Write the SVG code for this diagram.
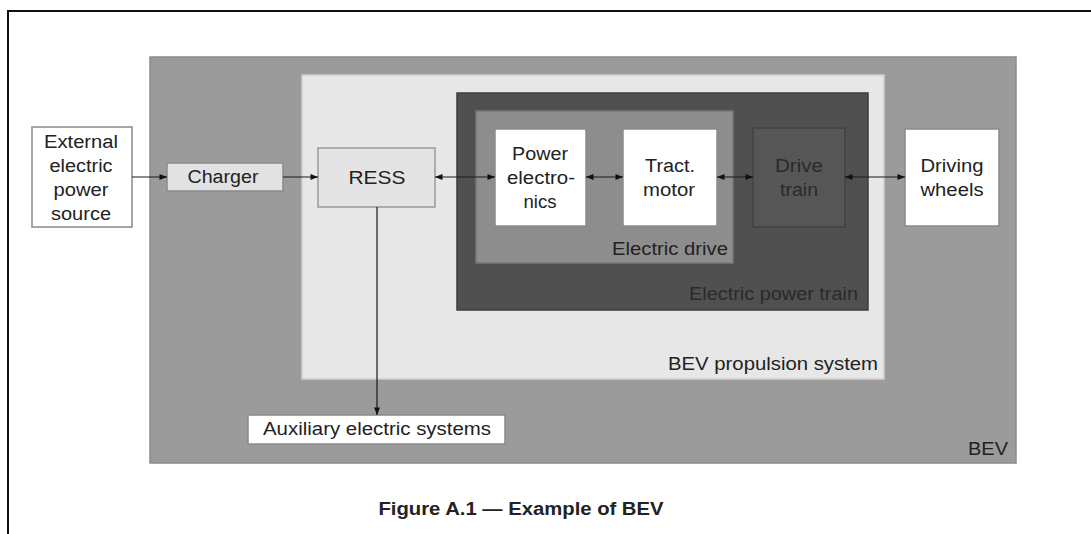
<svg xmlns="http://www.w3.org/2000/svg" width="1091" height="534" viewBox="0 0 1091 534">
<style>
text{font-family:"Liberation Sans",Arial,sans-serif;font-size:18px;fill:#222;}
.c{text-anchor:middle;}
.e{text-anchor:end;}
text.dark{fill:#2a2a2a;}
.conn{stroke:#1a1a1a;stroke-width:1.2;fill:none;}
.white{fill:#ffffff;stroke:#8a8a8a;stroke-width:1.5;}
</style>
<defs>
<marker id="ah" viewBox="0 0 10 8" refX="10" refY="4" markerWidth="9" markerHeight="6" markerUnits="userSpaceOnUse" orient="auto-start-reverse">
<path d="M0,0 L10,4 L0,8 z" fill="#111"/>
</marker>
</defs>
<rect x="0" y="0" width="1091" height="534" fill="#ffffff"/>
<path d="M8,534 L8,11 L1091,11" fill="none" stroke="#111" stroke-width="2"/>

<g id="bev">
<rect x="150" y="57" width="866" height="406" fill="#9b9b9b" stroke="#8a8a8a" stroke-width="1.5"/>
<text class="e" x="1008" y="455" textLength="40" lengthAdjust="spacingAndGlyphs">BEV</text>
</g>
<g id="propulsion">
<rect x="302" y="75" width="582" height="304" fill="#e7e7e7" stroke="#cfcfcf" stroke-width="1.5"/>
<text class="e" x="878" y="370" textLength="210" lengthAdjust="spacingAndGlyphs">BEV propulsion system</text>
</g>
<g id="powertrain">
<rect x="457" y="93" width="411" height="217" fill="#505050" stroke="#3c3c3c" stroke-width="1.5"/>
<text class="e dark" x="858" y="300" textLength="169" lengthAdjust="spacingAndGlyphs">Electric power train</text>
</g>
<g id="electric-drive">
<rect x="476" y="111" width="257" height="152" fill="#8d8d8d" stroke="#777" stroke-width="1.5"/>
<text class="e" x="728" y="255" textLength="116" lengthAdjust="spacingAndGlyphs">Electric drive</text>
</g>
<g id="external">
<rect class="white" x="32" y="127" width="100" height="100"/>
<text class="c" x="81" y="148" textLength="74" lengthAdjust="spacingAndGlyphs">External</text>
<text class="c" x="81" y="172" textLength="63" lengthAdjust="spacingAndGlyphs">electric</text>
<text class="c" x="81" y="196" textLength="55" lengthAdjust="spacingAndGlyphs">power</text>
<text class="c" x="81" y="220" textLength="60" lengthAdjust="spacingAndGlyphs">source</text>
</g>
<g id="charger">
<rect x="167" y="163" width="116" height="28" fill="#e2e2e2" stroke="#8a8a8a" stroke-width="1.5"/>
<text class="c" x="223" y="183" textLength="71" lengthAdjust="spacingAndGlyphs">Charger</text>
</g>
<g id="ress">
<rect x="318" y="148" width="117" height="59" fill="#e4e4e4" stroke="#9a9a9a" stroke-width="1.5"/>
<text class="c" x="377" y="184" textLength="57" lengthAdjust="spacingAndGlyphs">RESS</text>
</g>
<g id="power-electronics">
<rect class="white" x="495" y="129" width="91" height="97" stroke="#777"/>
<text class="c" x="540" y="160" textLength="56" lengthAdjust="spacingAndGlyphs">Power</text>
<text class="c" x="541" y="184" textLength="68" lengthAdjust="spacingAndGlyphs">electro-</text>
<text class="c" x="540" y="208" textLength="33" lengthAdjust="spacingAndGlyphs">nics</text>
</g>
<g id="traction-motor">
<rect class="white" x="623" y="129" width="94" height="97" stroke="#777"/>
<text class="c" x="670" y="172" textLength="50" lengthAdjust="spacingAndGlyphs">Tract.</text>
<text class="c" x="669" y="196" textLength="52" lengthAdjust="spacingAndGlyphs">motor</text>
</g>
<g id="drive-train">
<rect x="753" y="128" width="92" height="99" fill="#565656" stroke="#424242" stroke-width="1.5"/>
<text class="c dark" x="799" y="172" textLength="48" lengthAdjust="spacingAndGlyphs">Drive</text>
<text class="c dark" x="799" y="196" textLength="38" lengthAdjust="spacingAndGlyphs">train</text>
</g>
<g id="driving-wheels">
<rect class="white" x="905" y="129" width="94" height="97" stroke="#888"/>
<text class="c" x="952" y="172" textLength="63" lengthAdjust="spacingAndGlyphs">Driving</text>
<text class="c" x="952" y="196" textLength="63" lengthAdjust="spacingAndGlyphs">wheels</text>
</g>
<g id="auxiliary">
<rect class="white" x="248" y="415" width="257" height="29"/>
<text class="c" x="377" y="435" textLength="228" lengthAdjust="spacingAndGlyphs">Auxiliary electric systems</text>
</g>

<g id="connectors">
<line class="conn" x1="132" y1="177" x2="167" y2="177" marker-end="url(#ah)"/>
<line class="conn" x1="283" y1="177" x2="318" y2="177" marker-end="url(#ah)"/>
<line class="conn" x1="435" y1="177" x2="495" y2="177" marker-start="url(#ah)" marker-end="url(#ah)"/>
<line class="conn" x1="586" y1="177" x2="623" y2="177" marker-start="url(#ah)" marker-end="url(#ah)"/>
<line class="conn" x1="717" y1="177" x2="753" y2="177" marker-start="url(#ah)" marker-end="url(#ah)"/>
<line class="conn" x1="845" y1="177" x2="905" y2="177" marker-start="url(#ah)" marker-end="url(#ah)"/>
<line class="conn" x1="377" y1="207" x2="377" y2="415" marker-end="url(#ah)"/>
</g>

<text class="c" x="521" y="515" textLength="285" lengthAdjust="spacingAndGlyphs" style="font-weight:bold">Figure A.1 — Example of BEV</text>
</svg>
